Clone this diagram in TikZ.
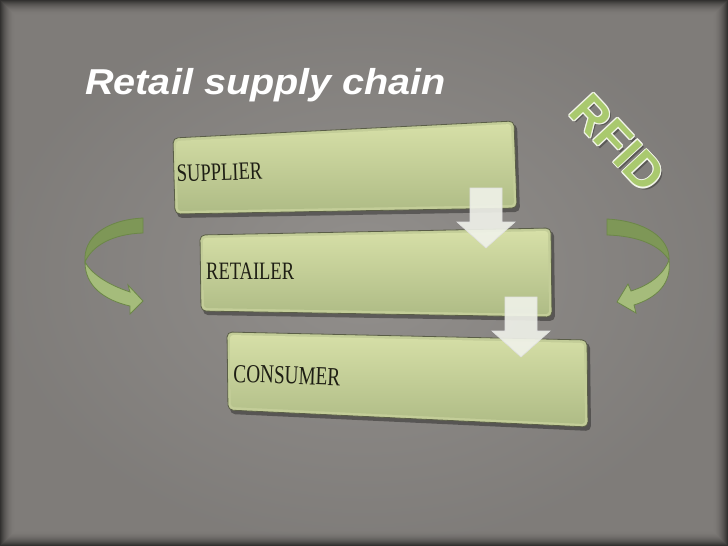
\documentclass[tikz,border=0pt]{standalone}
\usepackage{fontspec}
\setmainfont{Liberation Serif}
\newfontfamily\titlefont[FakeStretch=1.1]{Liberation Sans}
\newfontfamily\boxfont[FakeStretch=0.74]{Liberation Serif}
\newfontfamily\rfidfont{Liberation Sans}
\usetikzlibrary{calc}
\definecolor{bg}{HTML}{8A8784}
\definecolor{bglight}{HTML}{928F8C}
\definecolor{boxtop}{HTML}{D6DFA7}
\definecolor{boxbot}{HTML}{AFBC86}
\definecolor{rim}{HTML}{C3CD98}
\definecolor{edge}{HTML}{5A5E47}
\definecolor{ribdark}{HTML}{7E9757}
\definecolor{riblight}{HTML}{A5BC7B}
\definecolor{ribedge}{HTML}{6C8748}
\definecolor{rfidgreen}{HTML}{A9C96E}
\definecolor{rfidedge}{HTML}{F2F5E8}
\definecolor{boxtext}{HTML}{1E1E14}
\definecolor{arrowfill}{HTML}{F0F2EA}
\tikzset{
  boxlabel/.style={anchor=base west, inner sep=0pt, text=boxtext, font=\boxfont\fontsize{25}{28}\selectfont},
  blockarrow/.style={draw=white!75!gray, line width=0.6pt, fill=arrowfill, fill opacity=0.9},
  ribbondark/.style={fill=ribdark, draw=ribedge, line width=0.8pt},
  ribbonlight/.style={fill=riblight, draw=ribedge, line width=0.8pt},
  rfidtext/.style={inner sep=0pt, rotate=-47, font=\rfidfont\bfseries\fontsize{48}{50}\selectfont}
}
\newcommand\drawgreenbox[4]{%
  \fill[black,opacity=0.35,rounded corners=5pt] ($(#1)+(2,3)$) -- ($(#2)+(3,3)$) -- ($(#3)+(3,4)$) -- ($(#4)+(2,4)$) -- cycle;
  \filldraw[fill=rim,draw=edge,line width=0.8pt,rounded corners=5pt] (#1) -- (#2) -- (#3) -- (#4) -- cycle;
  \shade[top color=boxtop,bottom color=boxbot,rounded corners=3pt] ($(#1)+(3,3)$) -- ($(#2)+(-3,3)$) -- ($(#3)+(-3,-3)$) -- ($(#4)+(3,-3)$) -- cycle;
}
\newcommand\drawblockarrow[1]{%
  \filldraw[blockarrow] ($(#1)+(-16,0)$) -- ($(#1)+(16,0)$) -- ($(#1)+(16,34)$) -- ($(#1)+(29,34)$) -- ($(#1)+(0,60)$) -- ($(#1)+(-29,34)$) -- ($(#1)+(-16,34)$) -- cycle;
}
\begin{document}
\begin{tikzpicture}[x=1pt,y=-1pt]
\useasboundingbox (0,0) rectangle (728,546);
% background
\shade[inner color=bglight, outer color=bg!92!black] (0,0) rectangle (728,546);
\foreach \i in {0,...,14}{
  \pgfmathsetmacro\op{0.6*(1-\i/15)^2}
  \draw[line width=1pt,black,opacity=\op] (\i+0.5,\i+0.5) rectangle (727.5-\i,545.5-\i);
}
% title
\node[anchor=base west, inner sep=0pt, text=white, font=\titlefont\bfseries\itshape\fontsize{36}{40}\selectfont] (title) at (85,94) {Retail supply chain};
% RFID
\coordinate (rfidc) at (618,143);
\node[rfidtext, text=black, opacity=0.3] at ($(rfidc)+(2,2.5)$) {RFID};
\foreach \a in {0,45,...,315}{
  \node[rfidtext, text=rfidedge] at ($(rfidc)+(\a:1.2)$) {RFID};
}
\node[rfidtext, text=rfidgreen] (rfid) at (rfidc) {RFID};
% boxes
\coordinate (s1) at (173,138); \coordinate (s2) at (514,121); \coordinate (s3) at (517,208); \coordinate (s4) at (175,214);
\coordinate (r1) at (200,235); \coordinate (r2) at (551,228); \coordinate (r3) at (552,317); \coordinate (r4) at (201,311);
\coordinate (c1) at (227,332); \coordinate (c2) at (587,340); \coordinate (c3) at (588,427); \coordinate (c4) at (228,410);
\drawgreenbox{s1}{s2}{s3}{s4}
\drawgreenbox{r1}{r2}{r3}{r4}
\drawgreenbox{c1}{c2}{c3}{c4}
\node[boxlabel, rotate=2] (sup) at (177,182) {SUPPLIER};
\node[boxlabel] (ret) at (206,279) {RETAILER};
\node[boxlabel, rotate=-2, font=\boxfont\fontsize{26}{28}\selectfont] (con) at (233,382) {CONSUMER};
% block arrows between boxes
\coordinate (a1) at (486,188);
\coordinate (a2) at (521,297);
\drawblockarrow{a1}
\drawblockarrow{a2}
% left ribbon arrow
\coordinate (lt1) at (143,218); \coordinate (lt2) at (143,233); \coordinate (ltw) at (85,262);
\filldraw[ribbondark] (lt1) .. controls (105,220) and (83,238) .. (ltw) .. controls (92,246) and (112,234) .. (lt2) -- cycle;
\filldraw[ribbonlight] (ltw) .. controls (91,273) and (106,284) .. (130,292) -- (128,285) -- (143,301) -- (130,314) -- (130,306) .. controls (104,300) and (85,286) .. (ltw) -- cycle;
% right ribbon arrow
\coordinate (rt1) at (607,219); \coordinate (rt2) at (607,235); \coordinate (rtw) at (669,260);
\filldraw[ribbondark] (rt1) .. controls (645,221) and (670,238) .. (rtw) .. controls (660,246) and (640,236) .. (rt2) -- cycle;
\filldraw[ribbonlight] (rtw) .. controls (664,274) and (650,285) .. (631,291) -- (628,284) -- (617,302) -- (636,313) -- (634,305) .. controls (656,298) and (672,284) .. (rtw) -- cycle;
\end{tikzpicture}
\end{document}
